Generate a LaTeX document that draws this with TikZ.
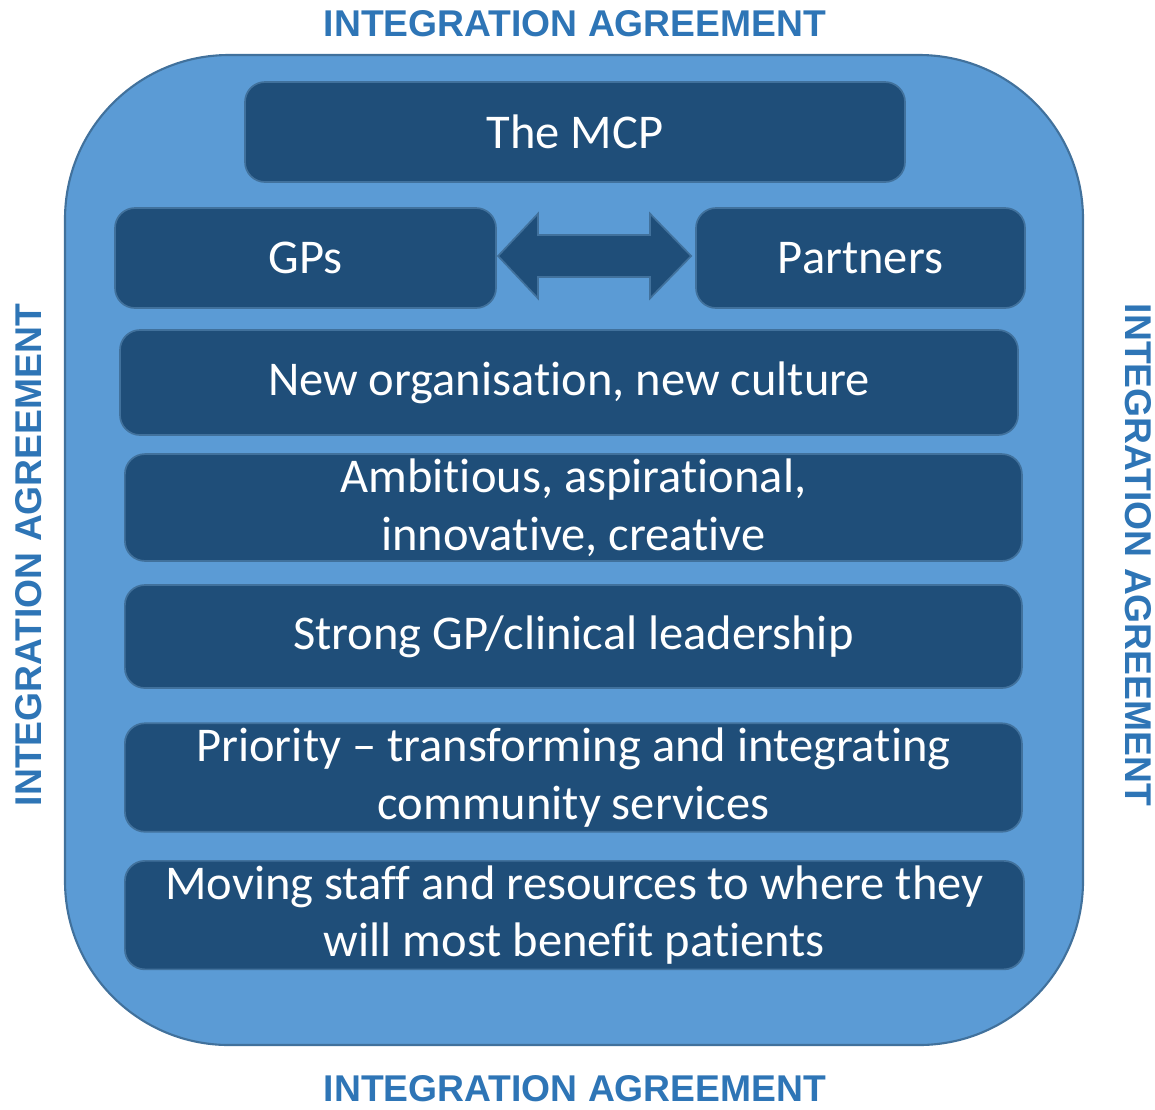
\documentclass[tikz,border=0pt]{standalone}
\usepackage{fontspec}
\setmainfont{Carlito}[Ligatures=NoCommon]
\newfontfamily\labelfont{Liberation Sans}
\usepackage{tikz}
\usetikzlibrary{calc,positioning}
\definecolor{outerfill}{HTML}{5B9BD5}
\definecolor{outerline}{HTML}{41719C}
\definecolor{boxfill}{HTML}{1F4E79}
\definecolor{labelblue}{HTML}{2E75B6}

\begin{document}
\begin{tikzpicture}[node distance=3cm]
\tikzset{block/.style = {draw=outerline, fill=boxfill, line width=1.2pt,
  rounded corners=.5cm, minimum height=2.5cm, text=white, align=center,
  font=\fontsize{34.5}{41}\selectfont},
  agreement/.style = {text=labelblue, inner sep=0pt,
  font=\labelfont\bfseries\fontsize{26.5}{30}\selectfont}}

  \useasboundingbox (0,0) rectangle (28.875,-27.725);

  % outer frame
  \draw[draw=outerline, fill=outerfill, line width=1.5pt, rounded corners=4.1cm]
    (1.625,-1.375) rectangle (27.075,-26.125);

  \node[agreement] (agrtop) at (14.375,-0.6) {INTEGRATION AGREEMENT};
  \node[agreement] (agrbottom) at (14.375,-27.22) {INTEGRATION AGREEMENT};
  \node[agreement, rotate=90] (agrleft) at (0.72,-13.875) {INTEGRATION AGREEMENT};
  \node[agreement, rotate=-90] (agrright) at (28.45,-13.875) {INTEGRATION AGREEMENT};

  \node[block, minimum width=16.5cm] (mcp) at (14.375,-3.3) {The MCP};
  \node[block, minimum width=9.525cm] (gps) at (7.6375,-6.45) {GPs};
  \node[block, minimum width=8.225cm] (partners) at (21.5125,-6.45) {Partners};

  \node[block, minimum width=22.45cm, minimum height=2.625cm] (neworg)
    at (14.225,-9.5625) {New organisation, new culture};
  \node[block, minimum width=22.425cm, minimum height=2.625cm,
    node distance=3.125cm, below of=neworg, xshift=.11cm] (ambitious)
    {Ambitious, aspirational,\\innovative, creative};
  \node[block, minimum width=22.425cm, minimum height=2.575cm,
    node distance=3.225cm, below of=ambitious] (strong)
    {Strong GP/clinical leadership};
  \node[block, minimum width=22.425cm, minimum height=2.625cm,
    node distance=3.525cm, below of=strong] (priority)
    {Priority -- transforming and integrating\\community services};
  \node[block, minimum width=22.475cm, minimum height=2.65cm,
    node distance=3.44cm, below of=priority, xshift=.025cm] (moving)
    {Moving staff and resources to where they\\will most benefit patients};

  % two way arrow between GPs and partners
  \coordinate (arrl) at ([xshift=.03cm,yshift=.05cm]gps.east);
  \coordinate (arrr) at ([xshift=-.1cm,yshift=.05cm]partners.west);
  \draw[draw=outerline, fill=boxfill, line width=1.2pt, line join=miter]
    (arrl) -- ++(1,1.06) -- ++(0,-.535) -- ($(arrr)+(-1.03,.525)$)
    -- ++(0,.535) -- (arrr) -- ++(-1.03,-1.06) -- ++(0,.535)
    -- ($(arrl)+(1,-.525)$) -- ++(0,-.535) -- cycle;

\end{tikzpicture}
\end{document}
